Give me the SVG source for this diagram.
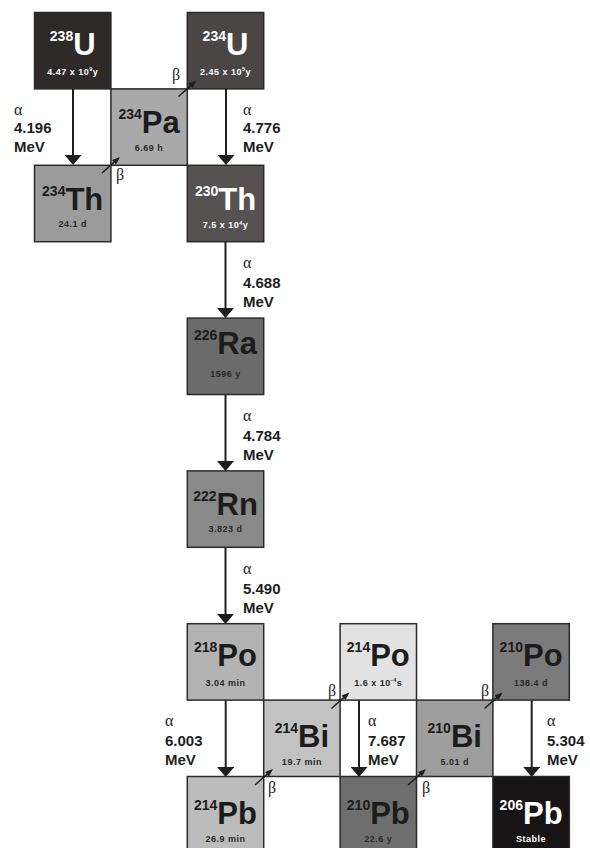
<svg xmlns="http://www.w3.org/2000/svg" width="590" height="848" viewBox="0 0 590 848">
<style>
.box{stroke:#2a2a2a;stroke-width:1.5}
.sym{font-family:"Liberation Sans","DejaVu Sans",sans-serif;font-weight:bold;font-size:31px;text-anchor:middle;fill:#1c1c1c}
.sup{font-size:14px}
.hl{font-family:"Liberation Sans","DejaVu Sans",sans-serif;font-weight:bold;font-size:9px;letter-spacing:0.5px;text-anchor:middle;fill:#2a2a2a}
.ex{font-size:5.5px}
.w{fill:#ffffff}
.lbl{font-family:"Liberation Sans","DejaVu Sans",sans-serif;font-weight:bold;font-size:15px;fill:#1e1e1e}
.gr{font-family:"Liberation Serif","DejaVu Serif",serif;font-size:16px;fill:#1e1e1e}
.a{stroke:#1e1e1e;stroke-width:2;fill:none}
.b{stroke:#1e1e1e;stroke-width:1.5;fill:none}
</style>
<defs>
<marker id="ah" markerUnits="userSpaceOnUse" markerWidth="10" markerHeight="17" viewBox="0 0 10 17" refX="2" refY="8.5" orient="auto">
<path d="M0,0 L10,8.5 L0,17 z" fill="#1e1e1e"/>
</marker>
<marker id="bh" markerUnits="userSpaceOnUse" markerWidth="8" markerHeight="6" viewBox="0 0 8 6" refX="1" refY="3" orient="auto">
<path d="M0,0 L8,3 L0,6 z" fill="#1e1e1e"/>
</marker>
</defs>

<g id="U238" transform="translate(34.5,12.5)">
<rect class="box" width="76.4" height="76.4" fill="#2e2a29"/>
<text class="sym w" x="38.2" y="42"><tspan class="sup" dy="-14">238</tspan><tspan dy="14">U</tspan></text>
<text class="hl w" x="38.2" y="62">4.47 x 10<tspan class="ex" dy="-3.5">9</tspan><tspan dy="3.5">y</tspan></text>
</g>
<g id="U234" transform="translate(187.3,12.5)">
<rect class="box" width="76.4" height="76.4" fill="#4a4645"/>
<text class="sym w" x="38.2" y="42"><tspan class="sup" dy="-14">234</tspan><tspan dy="14">U</tspan></text>
<text class="hl w" x="38.2" y="62">2.45 x 10<tspan class="ex" dy="-3.5">5</tspan><tspan dy="3.5">y</tspan></text>
</g>
<g id="Pa234" transform="translate(110.9,88.9)">
<rect class="box" width="76.4" height="76.4" fill="#a9a9a9"/>
<text class="sym" x="38.2" y="44"><tspan class="sup" dy="-14">234</tspan><tspan dy="14">Pa</tspan></text>
<text class="hl" x="38.2" y="62">6.69 h</text>
</g>
<g id="Th234" transform="translate(34.5,165.3)">
<rect class="box" width="76.4" height="76.4" fill="#9b9b9b"/>
<text class="sym" x="38.2" y="45"><tspan class="sup" dy="-14">234</tspan><tspan dy="14">Th</tspan></text>
<text class="hl" x="38.2" y="62">24.1 d</text>
</g>
<g id="Th230" transform="translate(187.3,165.3)">
<rect class="box" width="76.4" height="76.4" fill="#555251"/>
<text class="sym w" x="38.2" y="45"><tspan class="sup" dy="-14">230</tspan><tspan dy="14">Th</tspan></text>
<text class="hl w" x="38.2" y="63">7.5 x 10<tspan class="ex" dy="-3.5">4</tspan><tspan dy="3.5">y</tspan></text>
</g>
<g id="Ra226" transform="translate(187.3,318.1)">
<rect class="box" width="76.4" height="76.4" fill="#6b6b6b"/>
<text class="sym" x="38.2" y="36"><tspan class="sup" dy="-14">226</tspan><tspan dy="14">Ra</tspan></text>
<text class="hl" x="38.2" y="59">1596 y</text>
</g>
<g id="Rn222" transform="translate(187.3,470.9)">
<rect class="box" width="76.4" height="76.4" fill="#898989"/>
<text class="sym" x="38.2" y="44"><tspan class="sup" dy="-14">222</tspan><tspan dy="14">Rn</tspan></text>
<text class="hl" x="38.2" y="61">3.823 d</text>
</g>
<g id="Po218" transform="translate(187.3,623.7)">
<rect class="box" width="76.4" height="76.4" fill="#b3b3b3"/>
<text class="sym" x="38.2" y="42"><tspan class="sup" dy="-14">218</tspan><tspan dy="14">Po</tspan></text>
<text class="hl" x="38.2" y="62">3.04 min</text>
</g>
<g id="Po214" transform="translate(340.1,623.7)">
<rect class="box" width="76.4" height="76.4" fill="#e2e2e2"/>
<text class="sym" x="38.2" y="42"><tspan class="sup" dy="-14">214</tspan><tspan dy="14">Po</tspan></text>
<text class="hl" x="38.2" y="62">1.6 x 10<tspan class="ex" dy="-3.5">-4</tspan><tspan dy="3.5">s</tspan></text>
</g>
<g id="Po210" transform="translate(492.9,623.7)">
<rect class="box" width="76.4" height="76.4" fill="#7b7b7b"/>
<text class="sym" x="38.2" y="42"><tspan class="sup" dy="-14">210</tspan><tspan dy="14">Po</tspan></text>
<text class="hl" x="38.2" y="62">138.4 d</text>
</g>
<g id="Bi214" transform="translate(263.7,700.1)">
<rect class="box" width="76.4" height="76.4" fill="#c2c2c2"/>
<text class="sym" x="38.2" y="47"><tspan class="sup" dy="-14">214</tspan><tspan dy="14">Bi</tspan></text>
<text class="hl" x="38.2" y="65">19.7 min</text>
</g>
<g id="Bi210" transform="translate(416.5,700.1)">
<rect class="box" width="76.4" height="76.4" fill="#9e9e9e"/>
<text class="sym" x="38.2" y="47"><tspan class="sup" dy="-14">210</tspan><tspan dy="14">Bi</tspan></text>
<text class="hl" x="38.2" y="65">5.01 d</text>
</g>
<g id="Pb214" transform="translate(187.3,776.5)">
<rect class="box" width="76.4" height="76.4" fill="#bcbcbc"/>
<text class="sym" x="38.2" y="47"><tspan class="sup" dy="-14">214</tspan><tspan dy="14">Pb</tspan></text>
<text class="hl" x="38.2" y="65">26.9 min</text>
</g>
<g id="Pb210" transform="translate(340.1,776.5)">
<rect class="box" width="76.4" height="76.4" fill="#6e6e6e"/>
<text class="sym" x="38.2" y="47"><tspan class="sup" dy="-14">210</tspan><tspan dy="14">Pb</tspan></text>
<text class="hl" x="38.2" y="65">22.6 y</text>
</g>
<g id="Pb206" transform="translate(492.9,776.5)">
<rect class="box" width="76.4" height="76.4" fill="#161414"/>
<text class="sym w" x="38.2" y="47"><tspan class="sup" dy="-14">206</tspan><tspan dy="14">Pb</tspan></text>
<text class="hl w" x="38.2" y="65">Stable</text>
</g>

<g id="connectors">
<line class="a" x1="73" y1="89" x2="73" y2="157" marker-end="url(#ah)"/>
<line class="a" x1="226" y1="89" x2="226" y2="157" marker-end="url(#ah)"/>
<line class="a" x1="225.5" y1="242" x2="225.5" y2="310" marker-end="url(#ah)"/>
<line class="a" x1="225.5" y1="395" x2="225.5" y2="463" marker-end="url(#ah)"/>
<line class="a" x1="225.5" y1="548" x2="225.5" y2="616" marker-end="url(#ah)"/>
<line class="a" x1="225.7" y1="700.5" x2="225.7" y2="769" marker-end="url(#ah)"/>
<line class="a" x1="359" y1="700.5" x2="359" y2="769" marker-end="url(#ah)"/>
<line class="a" x1="531.7" y1="700.5" x2="531.7" y2="769" marker-end="url(#ah)"/>
<line class="b" x1="102" y1="173" x2="114.8" y2="161.6" marker-end="url(#bh)"/>
<line class="b" x1="178.5" y1="96.5" x2="191.3" y2="85.1" marker-end="url(#bh)"/>
<line class="b" x1="255" y1="785" x2="267.8" y2="773.6" marker-end="url(#bh)"/>
<line class="b" x1="331.5" y1="708.5" x2="344.3" y2="697.1" marker-end="url(#bh)"/>
<line class="b" x1="408" y1="785" x2="420.8" y2="773.6" marker-end="url(#bh)"/>
<line class="b" x1="484.5" y1="708.5" x2="497.3" y2="697.1" marker-end="url(#bh)"/>
</g>

<g id="labels">
<text class="gr" x="14" y="115">α</text>
<text class="lbl" x="14" y="133">4.196</text>
<text class="lbl" x="14" y="152">MeV</text>
<text class="gr" x="243" y="115">α</text>
<text class="lbl" x="243" y="133">4.776</text>
<text class="lbl" x="243" y="152">MeV</text>
<text class="gr" x="243" y="268">α</text>
<text class="lbl" x="243" y="288">4.688</text>
<text class="lbl" x="243" y="307">MeV</text>
<text class="gr" x="243" y="421">α</text>
<text class="lbl" x="243" y="441">4.784</text>
<text class="lbl" x="243" y="460">MeV</text>
<text class="gr" x="243" y="574">α</text>
<text class="lbl" x="243" y="594">5.490</text>
<text class="lbl" x="243" y="613">MeV</text>
<text class="gr" x="165" y="726">α</text>
<text class="lbl" x="165" y="746">6.003</text>
<text class="lbl" x="165" y="765">MeV</text>
<text class="gr" x="368" y="726">α</text>
<text class="lbl" x="368" y="746">7.687</text>
<text class="lbl" x="368" y="765">MeV</text>
<text class="gr" x="547" y="726">α</text>
<text class="lbl" x="547" y="746">5.304</text>
<text class="lbl" x="547" y="765">MeV</text>
<text class="gr" x="116" y="180">β</text>
<text class="gr" x="172" y="80">β</text>
<text class="gr" x="268" y="793">β</text>
<text class="gr" x="328" y="696">β</text>
<text class="gr" x="422" y="793">β</text>
<text class="gr" x="481" y="696">β</text>
</g>
</svg>
